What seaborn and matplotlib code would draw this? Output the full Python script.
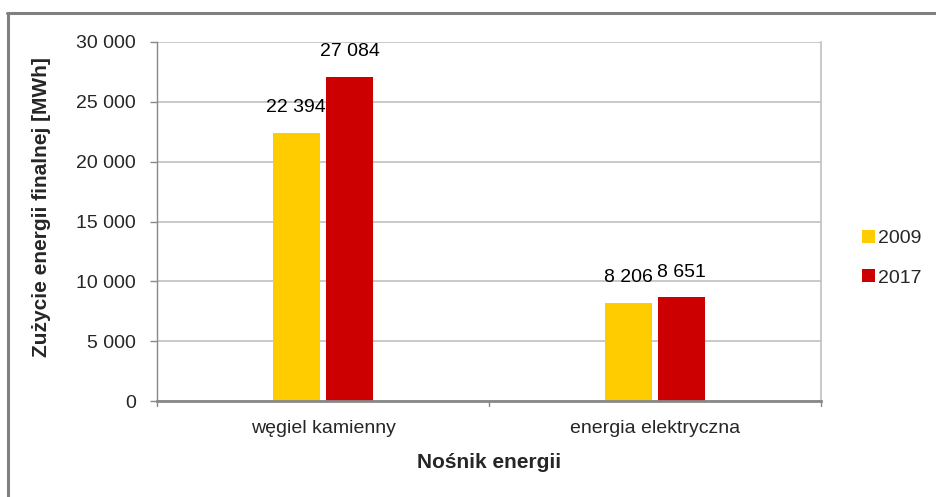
import matplotlib
matplotlib.use("Agg")
import matplotlib.pyplot as plt
import seaborn as sns
import pandas as pd
from matplotlib.lines import Line2D

categories = ["węgiel kamienny", "energia elektryczna"]
years = ["2009", "2017"]
values_2009 = [22394, 8206]
values_2017 = [27084, 8651]
yticks = [0, 5000, 10000, 15000, 20000, 25000, 30000]

df = pd.DataFrame({
    "cat": categories * 2,
    "year": [years[0]] * 2 + [years[1]] * 2,
    "val": values_2009 + values_2017,
})

sns.set_style("white")
plt.rcParams["font.family"] = ["Liberation Sans", "DejaVu Sans"]

fig = plt.figure(figsize=(9.37, 4.97), dpi=100)
ax = fig.add_axes([157/937, 1-401/497, (821-157)/937, (401-42)/497])

palette = {"2009": "#FFCC00", "2017": "#CC0000"}
sns.barplot(data=df, x="cat", y="val", hue="year", order=categories,
            hue_order=years, palette=palette, width=0.322, gap=0.13,
            saturation=1, linewidth=0, edgecolor="none", ax=ax, legend=True)

def fmt(v):
    return f"{int(round(v)):,}".replace(",", " ")

for cont in ax.containers:
    ax.bar_label(cont, labels=[fmt(b.get_height()) for b in cont],
                 padding=12, fontsize=14, color="black")

ax.set_xlim(-0.5, 1.5)
ax.set_ylim(0, 30000)
ax.set_yticks(yticks)
ax.set_yticklabels([fmt(t) for t in yticks], fontsize=14)
ax.tick_params(axis="x", labelsize=14, length=0, pad=14)
ax.tick_params(axis="y", length=5, width=1, color="#888888", pad=10, left=True)
ax.yaxis.grid(True, color="#c0c0c0", linewidth=1.2)
ax.set_axisbelow(True)
for xb in [-0.5, 0.5, 1.5]:
    ax.plot([xb, xb], [0, -0.014], transform=ax.get_xaxis_transform(),
            color="#888888", lw=1, clip_on=False)

ax.spines["top"].set_visible(False)
ax.spines["right"].set_color("#c0c0c0")
ax.spines["right"].set_linewidth(1.2)
ax.spines["left"].set_color("#888888")
ax.spines["bottom"].set_color("#888888")
ax.spines["bottom"].set_linewidth(2)
ax.spines["left"].set_linewidth(1)

ax.set_xlabel("Nośnik energii", fontsize=15, fontweight="bold", labelpad=11)
ax.set_ylabel("Zużycie energii finalnej [MWh]", fontsize=15, fontweight="bold")
ax.yaxis.set_label_coords((51 - 157) / (821 - 157), (401 - 207) / (401 - 42))

leg = ax.legend(loc="center left", bbox_to_anchor=(1.05, 0.398), frameon=False,
                fontsize=14, handlelength=0.65, handleheight=0.65, handletextpad=0.15,
                labelspacing=1.15, borderaxespad=0)

fig.add_artist(Line2D([8/937, 8/937], [0, 1-13/497], transform=fig.transFigure,
                      color="#808080", lw=2.2))
fig.add_artist(Line2D([7/937, 1], [1-13/497, 1-13/497], transform=fig.transFigure,
                      color="#808080", lw=2.2))

fig.savefig("out.png", dpi=100)
